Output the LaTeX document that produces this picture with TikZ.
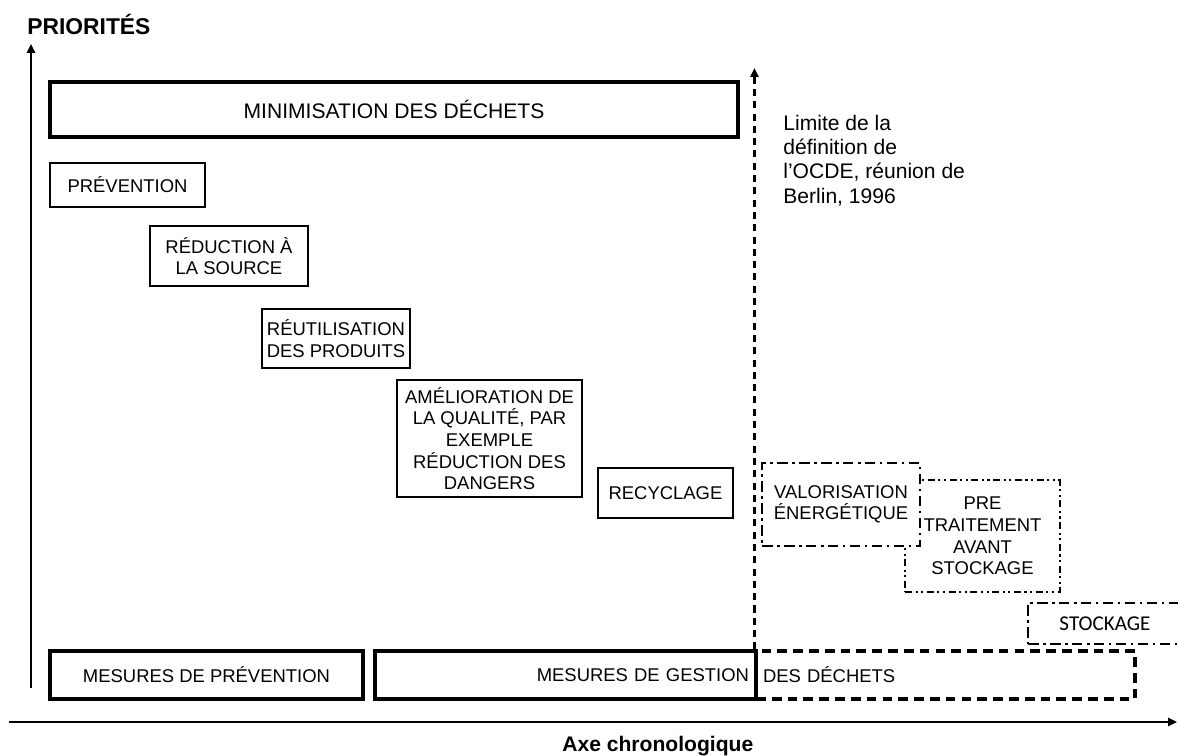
\documentclass[tikz,border=0pt]{standalone}
\usepackage{fontspec}
\setmainfont{Liberation Sans}
\newfontfamily\calibrifont{Carlito}
\usetikzlibrary{arrows.meta, positioning}
\tikzset{%
	every box/.style={
		draw,
		line width=1.5pt,
		align=center,
		inner sep=0pt,
		font=\fontsize{10.5}{12.3}\selectfont
	},
	box thick/.style={line width=2.4pt},
	box dashdot/.style={
		fill=white,
		line width=1.4pt,
		dash pattern=on 6pt off 2.5pt on 1.5pt off 2.5pt
	},
	box dashdotdot/.style={
		line width=1.4pt,
		dash pattern=on 4pt off 2pt on 1.2pt off 2pt on 1.2pt off 2pt
	},
	box dashed/.style={
		line width=1.8pt,
		dash pattern=on 5.5pt off 3.5pt
	},
	axis/.style={line width=1.2pt, -{Triangle[length=5pt, width=4.5pt]}},
}

\begin{document}
\begin{tikzpicture}[x=0.02cm, y=-0.02cm]
			\clip (0,0) rectangle (1178,756);
			
			% axes
			\coordinate (y-start) at (31,688);
			\coordinate (y-end) at (31,44);
			\coordinate (x-start) at (9,722);
			\coordinate (x-end) at (1177,722);
			\draw [axis] (y-start) -- (y-end);
			\draw [axis] (x-start) -- (x-end);
			\node [anchor=base west, inner sep=0pt, font=\fontsize{13}{15}\selectfont\bfseries] (priorites) at (27,35) {PRIORITÉS};
			\node [anchor=base west, inner sep=0pt, font=\fontsize{12}{14}\selectfont\bfseries] (chrono) at (562,752) {Axe chronologique};
			
			\node [every box, box thick, minimum width=13.76cm, minimum height=1.10cm, font=\fontsize{12}{14}\selectfont] (minimisation) at (394,109.5) {MINIMISATION DES DÉCHETS};
			
			% staircase of the measures
			\foreach \n/\x/\y/\w/\h/\t in {
				prevention/127.5/185/3.10/0.88/{PRÉVENTION},
				reduction/229/256/3.16/1.20/{RÉDUCTION À\\LA SOURCE},
				reutilisation/336/338.5/2.96/1.18/{RÉUTILISATION\\DES PRODUITS},
				amelioration/489.5/438.5/3.70/2.34/{AMÉLIORATION DE\\LA QUALITÉ, PAR\\EXEMPLE\\RÉDUCTION DES\\DANGERS},
				recyclage/665.5/493/2.70/1.00/{RECYCLAGE}}
			\node [every box, minimum width=\w cm, minimum height=\h cm] (\n) at (\x,\y) {\t};
			
			\node [every box, box dashdotdot, minimum width=3.10cm, minimum height=2.24cm] (pretraitement) at (982.5,536) {PRE\\TRAITEMENT\\AVANT\\STOCKAGE};
			\node [every box, box dashdot, minimum width=3.16cm, minimum height=1.66cm] (valorisation) at (841,504.5) {VALORISATION\\ÉNERGÉTIQUE};
			\node [every box, box dashdot, minimum width=3.08cm, minimum height=0.82cm, font=\calibrifont\fontsize{12}{14}\selectfont] (stockage) at (1105,623.5) {STOCKAGE};
			
			% bottom row
			\node [every box, box thick, minimum width=6.26cm, minimum height=0.96cm] (mesures-prevention) at (206.5,675) {MESURES DE PRÉVENTION};
			\node [every box, box dashed, minimum height=0.96cm, text width=7.30cm, inner xsep=0.14cm, align=left] (mesures-dechets) at (945.5,675) {DES DÉCHETS};
			\node [every box, box thick, minimum height=0.96cm, text width=7.34cm, inner xsep=0.14cm, align=right] (mesures-gestion) at (565.5,675) {MESURES DE GESTION};
			
			% OECD limit
			\coordinate (limite-end) at (755,68);
			\draw [line width=1.3pt, dash pattern=on 4pt off 3pt, -{Triangle[length=5pt, width=4.5pt]}] (mesures-dechets.north west) -- (mesures-dechets.north west |- limite-end);
			\node [anchor=north west, align=left, inner sep=0pt, font=\fontsize{12}{13.9}\selectfont] (limite) at (783,114.5) {Limite de la\\définition de\\l’OCDE, réunion de\\Berlin, 1996};
			
		\end{tikzpicture}
\end{document}
